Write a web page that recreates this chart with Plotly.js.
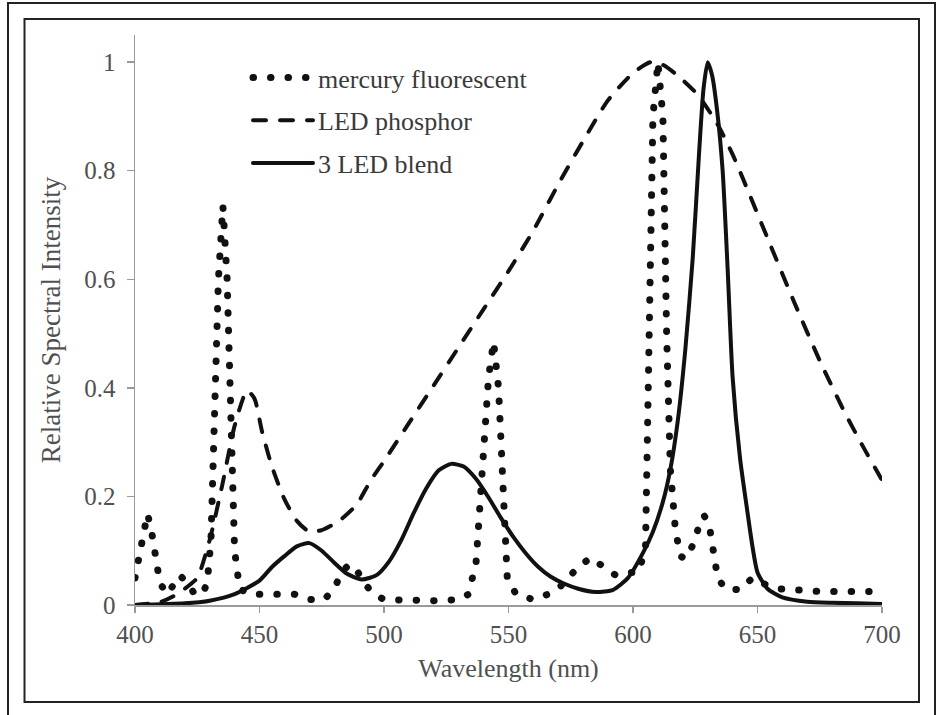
<!DOCTYPE html>
<html>
<head>
<meta charset="utf-8">
<script src="https://cdn.plot.ly/plotly-3.0.1.min.js"></script>
<style>
  html, body { margin: 0; padding: 0; background: #fff; }
  #chart { width: 940px; height: 715px; }
  .js-line { stroke-linecap: round !important; }
</style>
</head>
<body>
<div id="chart"></div>
<script>
// Mercury fluorescent spectrum
const mercuryX = [400, 402, 403.5, 405, 406.5, 408, 410, 413, 416, 418, 421, 424, 427, 429, 430.5, 432, 433.5, 435.3, 437, 438.5, 440, 442, 446, 452, 458, 464, 470, 476, 480, 483, 486, 489, 492, 496, 500, 510, 520, 530, 534, 537, 539.5, 542, 544, 546, 548, 549.5, 553, 560, 566, 570, 574, 578, 583, 588, 593, 598, 602, 605, 606.5, 608, 610, 612, 613.5, 615, 617, 619, 621, 624, 626.5, 628.5, 630.5, 632, 634, 637, 643, 648, 652, 658, 665, 675, 690, 700];
const mercuryY = [0.05, 0.10, 0.14, 0.168, 0.14, 0.09, 0.04, 0.02, 0.04, 0.055, 0.04, 0.02, 0.02, 0.04, 0.12, 0.35, 0.60, 0.735, 0.60, 0.35, 0.10, 0.03, 0.02, 0.02, 0.02, 0.02, 0.01, 0.01, 0.03, 0.06, 0.075, 0.065, 0.04, 0.02, 0.01, 0.008, 0.008, 0.01, 0.02, 0.08, 0.25, 0.42, 0.485, 0.40, 0.20, 0.05, 0.02, 0.01, 0.02, 0.03, 0.05, 0.07, 0.087, 0.07, 0.055, 0.06, 0.06, 0.10, 0.50, 0.90, 1.0, 0.90, 0.50, 0.25, 0.14, 0.09, 0.085, 0.11, 0.145, 0.165, 0.15, 0.11, 0.05, 0.03, 0.028, 0.05, 0.04, 0.03, 0.028, 0.025, 0.025, 0.025];

// LED phosphor spectrum
const phosphorX = [400, 410, 415, 420, 425, 430, 435, 440, 445, 448, 451, 455, 460, 465, 470, 475, 482, 489, 495, 500, 510, 520, 530, 540, 550, 560, 570, 580, 590, 600, 607, 612, 618, 626, 634, 640, 646, 655, 665, 675, 685, 692, 700];
const phosphorY = [0.0, 0.005, 0.015, 0.03, 0.05, 0.12, 0.22, 0.33, 0.395, 0.38, 0.32, 0.255, 0.195, 0.155, 0.135, 0.138, 0.155, 0.185, 0.232, 0.265, 0.335, 0.405, 0.475, 0.545, 0.615, 0.69, 0.775, 0.855, 0.93, 0.98, 1.0, 0.995, 0.975, 0.94, 0.885, 0.83, 0.765, 0.665, 0.555, 0.45, 0.355, 0.295, 0.23];

// 3 LED blend spectrum
const blendX = [400, 420, 430, 440, 450, 455, 460, 465, 470, 475, 480, 485, 491, 497, 502, 507, 512, 517, 522, 527, 532, 537, 542, 547, 552, 557, 562, 567, 572, 578, 585, 592, 598, 604, 608, 612, 615, 618, 621, 624, 626.5, 628.3, 630, 631.8, 633.8, 636, 638, 640, 643, 646, 648, 650, 654, 660, 670, 680, 690, 700];
const blendY = [0.0, 0.003, 0.008, 0.02, 0.045, 0.07, 0.09, 0.108, 0.114, 0.10, 0.078, 0.058, 0.047, 0.055, 0.08, 0.12, 0.17, 0.215, 0.248, 0.26, 0.255, 0.232, 0.198, 0.16, 0.125, 0.095, 0.07, 0.052, 0.04, 0.03, 0.024, 0.028, 0.05, 0.096, 0.135, 0.19, 0.25, 0.34, 0.47, 0.64, 0.83, 0.95, 1.0, 0.975, 0.91, 0.80, 0.62, 0.42, 0.27, 0.17, 0.107, 0.06, 0.03, 0.014, 0.006, 0.004, 0.003, 0.002];

const seriesNames = ['mercury fluorescent', 'LED phosphor', '3 LED blend'];
const yTickVals = [0, 0.2, 0.4, 0.6, 0.8, 1];
const yTickText = ['0', '0.2', '0.4', '0.6', '0.8', '1'];
const xTickVals = [400, 450, 500, 550, 600, 650, 700];

const serif = 'Liberation Serif';
const textColor = '#505050';
const axisColor = '#9a9a9a';

const traces = [
  {x: mercuryX, y: mercuryY, name: seriesNames[0], mode: 'lines', legendgroup: 'a',
   line: {color: '#111', width: 7, dash: '0.5px,17px'}},
  {x: phosphorX, y: phosphorY, name: seriesNames[1], mode: 'lines', legendgroup: 'b',
   line: {color: '#111', width: 4, dash: '13px,14px', shape: 'spline', smoothing: 0.6}},
  {x: blendX, y: blendY, name: seriesNames[2], mode: 'lines', legendgroup: 'c',
   line: {color: '#111', width: 4, shape: 'spline', smoothing: 0.6}}
];

// frame geometry in paper coords (plot area 135..882 x 35..605 px)
function px(x) { return (x - 135) / 747; }
function py(y) { return (605 - y) / 570; }

const layout = {
  width: 940, height: 715,
  margin: {l: 135, r: 58, t: 35, b: 110},
  paper_bgcolor: '#fff', plot_bgcolor: '#fff',
  font: {family: serif, color: textColor, size: 24},
  showlegend: true,
  legend: {x: px(248), y: py(54), xanchor: 'left', yanchor: 'top',
           bgcolor: 'rgba(0,0,0,0)', font: {family: serif, size: 26, color: '#3a3a3a'},
           itemwidth: 60, tracegroupgap: 6, traceorder: 'grouped'},
  xaxis: {range: [400, 700], tickvals: xTickVals, ticks: 'outside', ticklen: 6, tickwidth: 1.5,
          tickcolor: axisColor, showline: true, linecolor: axisColor, linewidth: 1.5,
          showgrid: false, zeroline: false, tickfont: {family: serif, size: 25, color: textColor},
          title: {text: 'Wavelength (nm)', font: {family: serif, size: 26, color: textColor}, standoff: 12}},
  yaxis: {range: [0, 1.05], tickvals: yTickVals, ticktext: yTickText, ticks: 'outside', ticklen: 7, tickwidth: 1.5,
          tickcolor: axisColor, showline: true, linecolor: axisColor, linewidth: 1.5, ticklabelstandoff: 6,
          showgrid: false, zeroline: false, tickfont: {family: serif, size: 25, color: textColor},
          title: {text: 'Relative Spectral Intensity', font: {family: serif, size: 27, color: textColor}, standoff: 16}},
  shapes: [
    {type: 'rect', xref: 'paper', yref: 'paper', x0: px(8), x1: px(935), y0: py(725), y1: py(3),
     line: {color: '#222', width: 2}},
    {type: 'rect', xref: 'paper', yref: 'paper', x0: px(24.5), x1: px(919), y0: py(702), y1: py(19),
     line: {color: '#222', width: 2}}
  ]
};

Plotly.newPlot('chart', traces, layout, {displayModeBar: false, staticPlot: true});
</script>
</body>
</html>
